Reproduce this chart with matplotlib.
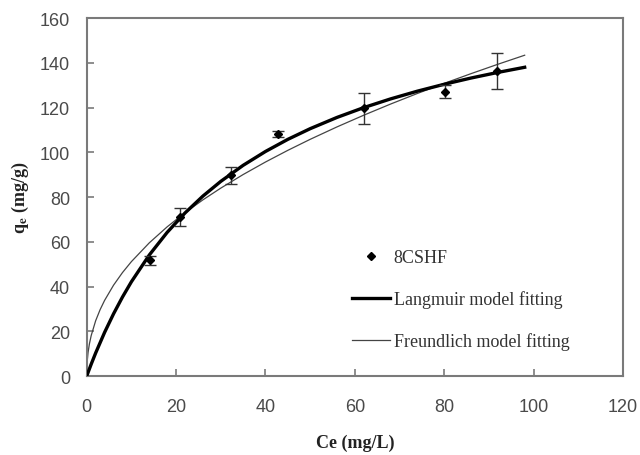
import matplotlib
matplotlib.use("Agg")
import matplotlib.pyplot as plt
from matplotlib.lines import Line2D

# measured points (Ce, qe) with error bars
ce = [14.1, 20.9, 32.2, 42.9, 62.0, 80.2, 91.8]
qe = [51.8, 70.9, 89.8, 108.2, 119.6, 127.1, 136.4]
qe_err = [2.0, 4.0, 3.8, 1.5, 7.0, 3.0, 8.0]

# fitted curves
lang_c = [0, 1, 2, 4, 6, 8, 10, 14, 18, 22, 26, 30, 35, 40, 45, 50,
          56, 62, 68, 74, 80, 86, 92, 98]
lang_q = [0, 5.29, 10.29, 19.50, 27.79, 35.30, 42.13, 54.08, 64.20, 72.88,
          80.41, 86.99, 94.16, 100.35, 105.77, 110.54, 115.57, 119.97,
          123.85, 127.31, 130.39, 133.18, 135.69, 137.98]

freu_c = [0, 0.1, 0.3, 0.6, 1, 2, 3, 4, 6, 8, 10, 14, 18, 22, 26, 30, 35,
          40, 45, 50, 56, 62, 68, 74, 80, 86, 92, 98]
freu_q = [0, 6.39, 10.49, 14.35, 18.07, 24.71, 29.68, 33.80, 40.59, 46.23,
          51.13, 59.52, 66.67, 73.00, 78.73, 83.98, 90.04, 95.64, 100.86,
          105.78, 111.33, 116.57, 121.55, 126.28, 130.80, 135.14, 139.33,
          143.37]

xticks = [0, 20, 40, 60, 80, 100, 120]
yticks = [0, 20, 40, 60, 80, 100, 120, 140, 160]

plt.rcParams["mathtext.fontset"] = "stix"

fig = plt.figure(figsize=(6.4, 4.56), dpi=100)
ax = fig.add_axes([0.1355, 0.1732, 0.8379, 0.7851])

ax.plot(freu_c, freu_q, color="#444444", linewidth=0.9, zorder=2)
ax.plot(lang_c, lang_q, color="black", linewidth=2.4, zorder=3)
ax.errorbar(ce, qe, yerr=qe_err, fmt="D", color="black", markersize=4.5,
            ecolor="#333333", elinewidth=1.0, capsize=4, capthick=1.0,
            zorder=4)

ax.set_xlim(0, 120)
ax.set_ylim(0, 160)
ax.set_xticks(xticks)
ax.set_yticks(yticks)

for s in ax.spines.values():
    s.set_color("#7a7a7a")
    s.set_linewidth(1.5)

ax.tick_params(direction="in", length=5, width=1.2, color="#7a7a7a",
               labelcolor="#4a4a4a", labelsize=13)
ax.tick_params(axis="x", pad=16)
ax.tick_params(axis="y", pad=12)
for lab in ax.get_xticklabels() + ax.get_yticklabels():
    lab.set_fontfamily("Liberation Sans")

ax.set_xlabel("Ce (mg/L)", fontfamily="Liberation Serif", fontsize=13,
              fontweight="bold", color="#222222", labelpad=13)
ax.set_ylabel(r"q$_\mathbf{e}$ (mg/g)", fontfamily="Liberation Serif",
              fontsize=13, fontweight="bold", color="#222222", labelpad=6)

# legend: marker only for the data, plain lines for the fits
handles = [
    Line2D([], [], linestyle="none", marker="D", color="black", markersize=4.5),
    Line2D([], [], color="black", linewidth=2.4),
    Line2D([], [], color="#444444", linewidth=0.9),
]
labels = ["8CSHF", "Langmuir model fitting", "Freundlich model fitting"]
leg = ax.legend(handles, labels,
                loc="upper left", bbox_to_anchor=(0.495, 0.355),
                frameon=False, borderpad=0, borderaxespad=0,
                handlelength=2.1, handletextpad=0.2, labelspacing=1.35,
                prop={"family": "Liberation Serif", "size": 13})
for t in leg.get_texts():
    t.set_color("#333333")

plt.savefig("out.png", dpi=100)
